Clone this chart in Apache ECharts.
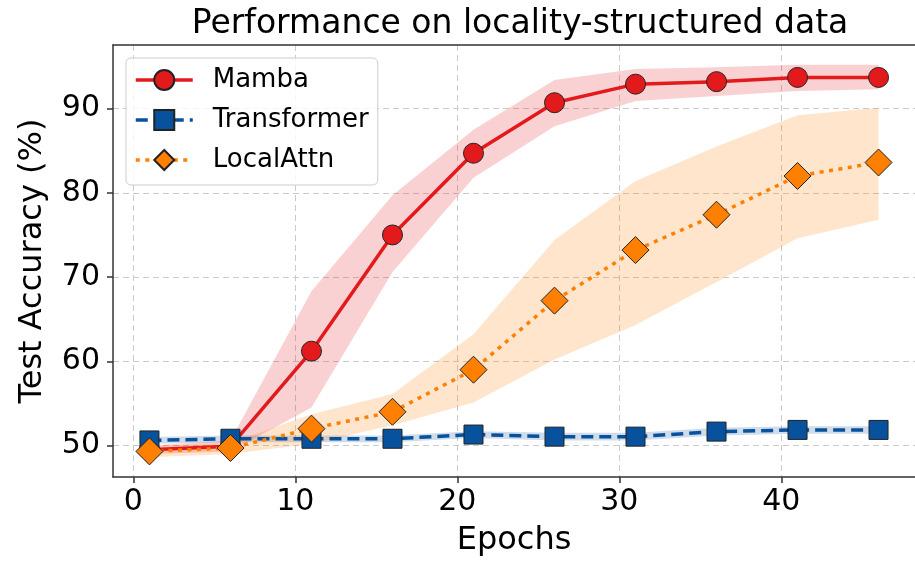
<!DOCTYPE html>
<html>
<head>
<meta charset="utf-8">
<script src="https://cdn.jsdelivr.net/npm/echarts@6/dist/echarts.min.js"></script>
<style>html,body{margin:0;padding:0;background:#fff}#chart{width:915px;height:562px}</style>
</head>
<body>
<div id="chart"></div>
<script>
const epochs = [1, 6, 11, 16, 21, 26, 31, 36, 41, 46];
const xTicks = [0, 10, 20, 30, 40];
const yTicks = [50, 60, 70, 80, 90];

const mamba = [49.5, 49.9, 61.2, 75.0, 84.7, 90.7, 92.9, 93.2, 93.7, 93.7];
const mambaLow = [49.0, 49.3, 54.5, 70.6, 81.8, 87.9, 90.9, 91.5, 92.1, 92.3];
const mambaHigh = [50.0, 50.6, 68.3, 79.7, 87.5, 93.4, 94.7, 94.9, 95.2, 95.2];

const transformer = [50.6, 50.8, 50.8, 50.8, 51.3, 51.05, 51.05, 51.65, 51.85, 51.85];
const transformerLow = [50.2, 50.4, 50.4, 50.4, 50.9, 50.6, 50.6, 51.2, 51.4, 51.4];
const transformerHigh = [51.0, 51.2, 51.2, 51.2, 51.7, 51.5, 51.5, 52.1, 52.3, 52.3];

const localAttn = [49.3, 49.7, 52.0, 54.0, 59.0, 67.2, 73.2, 77.4, 82.0, 83.6];
const localLow = [48.6, 49.0, 50.2, 52.4, 55.1, 60.2, 64.3, 69.4, 74.6, 76.8];
const localHigh = [49.9, 50.3, 53.7, 56.1, 63.2, 74.4, 81.4, 85.5, 89.2, 90.1];

const FONT = 'DejaVu Sans';
const chart = echarts.init(document.getElementById('chart'), null, {renderer: 'canvas'});

function band(name, lo, hi, fill) {
  return {
    type: 'custom', name: name, silent: true, z: 1, clip: true,
    data: epochs.map((e, i) => [e, lo[i], hi[i]]),
    encode: {x: 0, y: [1, 2]},
    renderItem: function (params, api) {
      if (params.dataIndex !== 0) return null;
      const pts = [];
      for (let i = 0; i < epochs.length; i++) pts.push(api.coord([epochs[i], hi[i]]));
      for (let i = epochs.length - 1; i >= 0; i--) pts.push(api.coord([epochs[i], lo[i]]));
      return {type: 'polygon', shape: {points: pts}, style: {fill: fill}};
    }
  };
}

function line(name, vals, color, symbol, size, dash, z) {
  return {
    type: 'line', name: name, z: z,
    data: epochs.map((e, i) => [e, vals[i]]),
    symbol: symbol, symbolSize: size, showAllSymbol: true,
    lineStyle: {color: color, width: 3.5, type: dash, cap: 'butt'},
    itemStyle: {color: color, borderColor: '#222', borderWidth: 1},
    emphasis: {disabled: true},
    animation: false
  };
}

const axisCommon = {
  axisLine: {show: true, onZero: false, lineStyle: {color: '#333', width: 1.5}},
  axisTick: {show: true, length: 6, lineStyle: {color: '#333', width: 1.5}},
  splitLine: {show: true, lineStyle: {color: '#cbcbcb', width: 1, type: [6, 4]}}
};

chart.setOption({
  animation: false,
  title: {
    text: 'Performance on locality-structured data',
    left: 515, top: 3, textAlign: 'center',
    textStyle: {fontFamily: FONT, fontSize: 33, fontWeight: 'normal', color: '#000'}
  },
  grid: {left: 113, top: 45, width: 819, height: 435, containLabel: false},
  legend: {
    data: ['Mamba', 'Transformer', 'LocalAttn'],
    orient: 'vertical', left: 126, top: 58,
    itemWidth: 57, itemHeight: 25, itemGap: 14,
    padding: [9, 9, 12, 8],
    backgroundColor: 'rgba(255,255,255,0.8)',
    borderColor: '#cccccc', borderWidth: 1, borderRadius: 5,
    lineStyle: {width: 3.5},
    textStyle: {fontFamily: FONT, fontSize: 26, color: '#000', padding: [0, 0, 0, 15]}
  },
  xAxis: [Object.assign({}, axisCommon, {
    type: 'value', min: -1.25, max: 48.25,
    name: 'Epochs', nameLocation: 'middle', nameGap: 48,
    nameTextStyle: {fontFamily: FONT, fontSize: 32, color: '#000'},
    axisTick: Object.assign({}, axisCommon.axisTick, {customValues: xTicks}),
    axisLabel: {customValues: xTicks, fontFamily: FONT, fontSize: 30, color: '#000', margin: 10}
  }), {
    type: 'value', position: 'top', min: -1.25, max: 48.25,
    axisLine: {show: true, onZero: false, lineStyle: {color: '#333', width: 1.5}},
    axisTick: {show: false}, axisLabel: {show: false}, splitLine: {show: false}
  }],
  yAxis: Object.assign({}, axisCommon, {
    type: 'value', min: 46.26, max: 97.55,
    name: 'Test Accuracy (%)', nameLocation: 'middle', nameGap: 64, nameRotate: 90,
    nameTextStyle: {fontFamily: FONT, fontSize: 32, color: '#000'},
    axisTick: Object.assign({}, axisCommon.axisTick, {customValues: yTicks}),
    axisLabel: {customValues: yTicks, fontFamily: FONT, fontSize: 30, color: '#000', margin: 13}
  }),
  series: [
    band('MambaBand', mambaLow, mambaHigh, 'rgba(227,26,28,0.2)'),
    band('TransformerBand', transformerLow, transformerHigh, 'rgba(8,81,156,0.2)'),
    band('LocalAttnBand', localLow, localHigh, 'rgba(255,127,0,0.2)'),
    line('Mamba', mamba, '#e31a1c', 'circle', 20, 'solid', 3),
    line('Transformer', transformer, '#08519c', 'rect', 19, [12, 6], 4),
    line('LocalAttn', localAttn, '#ff7f00', 'diamond', 27, [4, 5.5], 5)
  ]
});
</script>
</body>
</html>
